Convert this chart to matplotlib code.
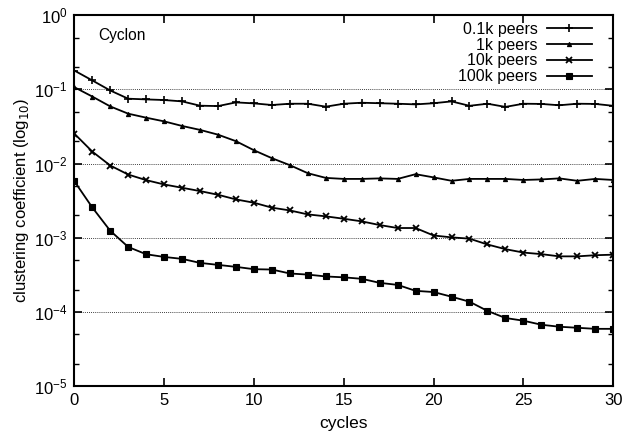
import matplotlib
matplotlib.use("Agg")
import matplotlib.pyplot as plt
from matplotlib.ticker import LogLocator, FixedLocator, NullFormatter

plt.rcParams['font.family'] = ['Liberation Sans', 'DejaVu Sans']

cycles = list(range(31))

peers_01k = [0.1795, 0.132, 0.0966, 0.0748, 0.0732, 0.0718, 0.0688, 0.0602, 0.0595, 0.0667,
             0.0647, 0.0615, 0.064, 0.064, 0.0584, 0.0640, 0.066, 0.065, 0.064, 0.0627,
             0.065, 0.0688, 0.060, 0.064, 0.058, 0.064, 0.0636, 0.061, 0.064, 0.0636, 0.060]
peers_1k = [0.107, 0.080, 0.0589, 0.047, 0.0415, 0.037, 0.0321, 0.0284, 0.0245, 0.020,
            0.0151, 0.0118, 0.0095, 0.0074, 0.0064, 0.0062, 0.0062, 0.0063, 0.0062, 0.00718,
            0.0065, 0.00585, 0.0062, 0.0062, 0.0062, 0.0060, 0.0061, 0.0063, 0.00585, 0.0062, 0.0060]
peers_10k = [0.0253, 0.0145, 0.0094, 0.0071, 0.00597, 0.00522, 0.00471, 0.00425, 0.00379, 0.00328,
             0.00296, 0.00254, 0.00233, 0.00206, 0.00194, 0.0018, 0.00166, 0.00148, 0.00135, 0.00135,
             0.00107, 0.00101, 0.00097, 0.00081, 0.0007, 0.00063, 0.0006, 0.00056, 0.00056, 0.00058, 0.00059]
peers_100k = [0.00578, 0.00256, 0.00124, 0.00075, 0.000598, 0.00055, 0.000518, 0.000457, 0.00043, 0.000404,
              0.000376, 0.000372, 0.000329, 0.000318, 0.0003, 0.000292, 0.000279, 0.000246, 0.000231, 0.000192,
              0.000185, 0.00016, 0.000137, 0.000103, 8.26e-5, 7.6e-5, 6.7e-5, 6.3e-5, 6.1e-5, 5.9e-5, 5.9e-5]

labels = ['0.1k peers', '1k peers', '10k peers', '100k peers']

fig = plt.figure(figsize=(6.27, 4.44), dpi=100)
ax = fig.add_axes([0.1185, 0.1306, 0.8595, 0.8352])

ax.plot(cycles, peers_01k, color='black', lw=1.3, marker='+', ms=6, mew=1.2, label=labels[0])
ax.plot(cycles, peers_1k, color='black', lw=1.3, marker='^', ms=3, mew=0.8, label=labels[1])
ax.plot(cycles, peers_10k, color='black', lw=1.3, marker='x', ms=5, mew=1.3, label=labels[2])
ax.plot(cycles, peers_100k, color='black', lw=1.3, marker='s', ms=5, mew=0.8, label=labels[3])

ax.set_yscale('log')
ax.set_ylim(1e-5, 1e0)
ax.set_xlim(0, 30)
ax.set_xticks([0, 5, 10, 15, 20, 25, 30])
ax.yaxis.set_major_locator(FixedLocator([1e-5, 1e-4, 1e-3, 1e-2, 1e-1, 1e0]))
ax.yaxis.set_minor_locator(LogLocator(base=10, subs=(2.0, 5.0)))
ax.yaxis.set_minor_formatter(NullFormatter())

for g in [1e-1, 1e-2, 1e-3, 1e-4]:
    ax.axhline(g, color='black', lw=0.6, ls=(0, (1, 1.5)), zorder=0)

ax.tick_params(which='both', direction='in', top=True, right=True, labelsize=12, color='black')
ax.tick_params(which='major', length=6, width=1.2, pad=5)
ax.tick_params(which='minor', length=3.5, width=1.0)
for s in ax.spines.values():
    s.set_linewidth(1.5)

ax.set_xlabel('cycles', fontsize=12.5, labelpad=6)
ax.set_ylabel('clustering coefficient (log$_{10}$)', fontsize=12, labelpad=2)

ax.text(0.045, 0.965, 'Cyclon', transform=ax.transAxes, fontsize=11.2, va='top', ha='left')

leg = ax.legend(loc='upper right', frameon=False, markerfirst=False, fontsize=11.5,
                handlelength=2.8, labelspacing=0.05, borderaxespad=0.2, handletextpad=0.6,
                bbox_to_anchor=(0.978, 1.008))
for t in leg.get_texts():
    t.set_ha('right')
leg._legend_box.align = 'right'

fig.savefig('out.png', dpi=100)
